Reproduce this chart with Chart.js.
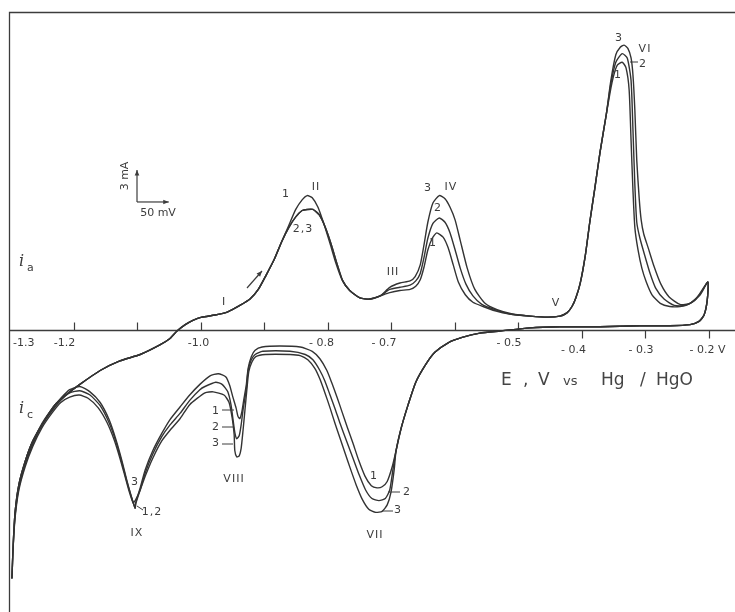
<!DOCTYPE html>
<html>
<head>
<meta charset="utf-8">
<script src="https://cdn.jsdelivr.net/npm/chart.js@4"></script>
<style>
  html, body { margin: 0; padding: 0; background: #fff; }
  #wrap { width: 735px; height: 612px; }
</style>
</head>
<body>
<div id="wrap"><canvas id="cv" width="735" height="612"></canvas></div>
<script>
'use strict';

// ── data: E (V vs Hg/HgO), i (mA) ───────────────────────────────────────────
// anodic sweep, common part from the cathodic vertex
const ANODIC_START = [[-1.297,-23.3],[-1.295,-20.2],[-1.292,-17.1],[-1.286,-14.5],[-1.276,-12.3],[-1.264,-10.4],[-1.248,-8.7],[-1.229,-7.0],[-1.210,-6.0],[-1.190,-5.1],[-1.158,-3.8],[-1.127,-2.9],[-1.095,-2.3],[-1.064,-1.4],[-1.048,-0.8],[-1.037,-0.1],[-1.024,0.5],[-1.012,0.9],[-0.998,1.2],[-0.977,1.4],[-0.957,1.7],[-0.938,2.3],[-0.922,2.9],[-0.909,3.8],[-0.897,5.1],[-0.884,6.6],[-0.872,8.3]];
// peak II
const PEAK2_C1  = [[-0.861,9.8],[-0.850,11.3],[-0.840,12.2],[-0.832,12.6],[-0.824,12.4],[-0.815,11.5],[-0.806,10.0],[-0.796,8.1],[-0.787,6.3],[-0.777,4.7]];
const PEAK2_C23 = [[-0.861,9.6],[-0.850,10.6],[-0.840,11.2],[-0.832,11.3],[-0.823,11.3],[-0.813,10.8],[-0.804,9.7],[-0.794,8.0],[-0.785,6.2],[-0.776,4.6]];
const VALLEY_2_3 = [[-0.765,3.7],[-0.749,3.0],[-0.733,2.9],[-0.717,3.2]];
// peaks III, IV down to V
const PEAK4_C1 = [[-0.702,3.5],[-0.686,3.7],[-0.670,3.8],[-0.661,4.1],[-0.654,4.7],[-0.648,5.9],[-0.642,7.5],[-0.635,8.6],[-0.628,9.1],[-0.618,8.7],[-0.610,7.7],[-0.602,6.1],[-0.594,4.5],[-0.583,3.3],[-0.571,2.6],[-0.555,2.2],[-0.536,1.8],[-0.513,1.5],[-0.481,1.3]];
const PEAK4_C2 = [[-0.702,3.8],[-0.686,4.0],[-0.670,4.2],[-0.661,4.6],[-0.654,5.3],[-0.648,6.8],[-0.642,8.6],[-0.634,10.0],[-0.624,10.5],[-0.615,10.1],[-0.607,9.1],[-0.599,7.5],[-0.591,5.8],[-0.582,4.3],[-0.571,3.2],[-0.557,2.4],[-0.536,1.9],[-0.513,1.5],[-0.481,1.3]];
const PEAK4_C3 = [[-0.702,4.0],[-0.686,4.4],[-0.670,4.6],[-0.662,5.0],[-0.654,6.1],[-0.648,8.0],[-0.642,10.1],[-0.634,11.9],[-0.624,12.6],[-0.615,12.3],[-0.607,11.5],[-0.599,10.3],[-0.591,8.4],[-0.580,5.8],[-0.568,3.8],[-0.552,2.5],[-0.533,1.9],[-0.509,1.5],[-0.481,1.3]];
const RISE_6 = [[-0.453,1.2],[-0.434,1.3],[-0.423,1.6],[-0.415,2.2],[-0.409,3.0],[-0.402,4.4],[-0.394,7.0],[-0.387,10.1],[-0.379,13.3],[-0.371,16.6],[-0.361,20.2]];
// peak VI up to the anodic vertex
const PEAK6_C1 = [[-0.352,23.2],[-0.344,24.8],[-0.336,25.1],[-0.330,24.6],[-0.325,22.5],[-0.322,17.8],[-0.319,13.1],[-0.316,9.6],[-0.311,7.5],[-0.305,5.8],[-0.298,4.5],[-0.289,3.3],[-0.276,2.5],[-0.261,2.2],[-0.245,2.2],[-0.229,2.5],[-0.213,3.4],[-0.201,4.5]];
const PEAK6_C2 = [[-0.354,23.0],[-0.346,25.1],[-0.336,25.9],[-0.328,25.5],[-0.322,23.4],[-0.319,18.8],[-0.316,13.6],[-0.313,10.1],[-0.308,8.6],[-0.300,6.9],[-0.292,5.3],[-0.283,3.9],[-0.270,2.9],[-0.254,2.3],[-0.237,2.3],[-0.221,2.8],[-0.201,4.5]];
const PEAK6_C3 = [[-0.354,23.3],[-0.346,25.8],[-0.339,26.5],[-0.333,26.7],[-0.327,26.4],[-0.322,25.5],[-0.319,23.9],[-0.316,20.6],[-0.313,15.9],[-0.309,12.2],[-0.306,10.3],[-0.302,9.0],[-0.295,7.7],[-0.286,6.0],[-0.275,4.3],[-0.262,3.1],[-0.245,2.4],[-0.229,2.5],[-0.213,3.3],[-0.201,4.5]];
// cathodic sweep, common part
const CATHODIC_START = [[-0.202,2.8],[-0.207,1.4],[-0.215,0.8],[-0.229,0.5],[-0.261,0.4],[-0.308,0.4],[-0.371,0.3],[-0.434,0.3],[-0.481,0.2],[-0.528,-0.1],[-0.560,-0.3],[-0.588,-0.7],[-0.610,-1.2],[-0.631,-2.1],[-0.646,-3.3],[-0.661,-4.9],[-0.673,-7.0],[-0.684,-9.2],[-0.692,-11.3]];
// peaks VII, VIII, IX back to the cathodic vertex
const CATHODIC_C1 = [[-0.698,-12.8],[-0.706,-14.2],[-0.714,-14.7],[-0.722,-14.8],[-0.731,-14.6],[-0.741,-13.7],[-0.751,-12.2],[-0.760,-10.6],[-0.769,-9.1],[-0.777,-7.7],[-0.785,-6.3],[-0.793,-5.0],[-0.801,-3.8],[-0.812,-2.7],[-0.824,-2.0],[-0.843,-1.6],[-0.875,-1.5],[-0.903,-1.6],[-0.914,-1.9],[-0.920,-2.5],[-0.925,-3.6],[-0.928,-5.2],[-0.932,-6.6],[-0.935,-7.7],[-0.938,-8.3],[-0.941,-8.1],[-0.944,-7.3],[-0.949,-6.3],[-0.954,-5.2],[-0.960,-4.4],[-0.972,-4.1],[-0.985,-4.3],[-1.001,-5.1],[-1.017,-6.1],[-1.032,-7.2],[-1.048,-8.4],[-1.061,-9.7],[-1.075,-11.3],[-1.087,-13.1],[-1.095,-14.8],[-1.102,-16.2],[-1.103,-16.7],[-1.109,-15.6],[-1.116,-14.1],[-1.124,-12.2],[-1.133,-10.3],[-1.144,-8.4],[-1.158,-6.8],[-1.174,-5.8],[-1.190,-5.3],[-1.206,-5.6],[-1.220,-6.4],[-1.234,-7.4],[-1.250,-8.8],[-1.264,-10.5],[-1.276,-12.4],[-1.286,-14.6],[-1.292,-17.3],[-1.295,-20.2],[-1.297,-23.3]];
const CATHODIC_C2 = [[-0.697,-13.1],[-0.702,-15.0],[-0.709,-15.8],[-0.719,-16.0],[-0.730,-15.8],[-0.740,-15.0],[-0.750,-13.6],[-0.760,-12.0],[-0.770,-10.4],[-0.780,-8.8],[-0.788,-7.4],[-0.796,-6.1],[-0.804,-4.8],[-0.812,-3.8],[-0.823,-2.8],[-0.835,-2.3],[-0.859,-2.0],[-0.902,-2.0],[-0.914,-2.3],[-0.920,-2.8],[-0.925,-3.8],[-0.928,-5.6],[-0.933,-7.5],[-0.936,-8.9],[-0.939,-9.9],[-0.943,-10.2],[-0.946,-9.6],[-0.949,-8.3],[-0.952,-7.0],[-0.957,-5.8],[-0.966,-5.1],[-0.976,-4.9],[-0.993,-5.3],[-1.001,-5.6],[-1.017,-6.6],[-1.032,-7.8],[-1.048,-8.9],[-1.061,-10.0],[-1.075,-11.6],[-1.087,-13.4],[-1.095,-15.0],[-1.102,-16.3],[-1.103,-16.7],[-1.109,-15.6],[-1.116,-14.2],[-1.124,-12.4],[-1.133,-10.5],[-1.144,-8.7],[-1.158,-7.1],[-1.174,-6.1],[-1.190,-5.7],[-1.206,-5.9],[-1.220,-6.6],[-1.234,-7.6],[-1.250,-9.0],[-1.264,-10.7],[-1.276,-12.6],[-1.286,-14.8],[-1.292,-17.4],[-1.295,-20.3],[-1.297,-23.3]];
const CATHODIC_C3 = [[-0.695,-13.1],[-0.700,-15.2],[-0.706,-16.4],[-0.714,-17.0],[-0.724,-17.1],[-0.735,-16.8],[-0.745,-15.9],[-0.755,-14.5],[-0.764,-13.0],[-0.772,-11.6],[-0.780,-10.2],[-0.788,-8.8],[-0.796,-7.3],[-0.804,-5.9],[-0.812,-4.6],[-0.820,-3.6],[-0.831,-2.8],[-0.843,-2.4],[-0.859,-2.3],[-0.898,-2.3],[-0.913,-2.5],[-0.919,-3.0],[-0.924,-3.9],[-0.927,-5.6],[-0.930,-7.5],[-0.933,-9.4],[-0.936,-11.1],[-0.939,-11.8],[-0.943,-11.9],[-0.946,-11.3],[-0.947,-9.8],[-0.950,-8.3],[-0.955,-6.8],[-0.963,-6.1],[-0.980,-5.8],[-0.993,-5.9],[-1.017,-7.0],[-1.032,-8.3],[-1.048,-9.4],[-1.061,-10.4],[-1.075,-12.0],[-1.087,-13.7],[-1.095,-15.0],[-1.102,-15.9],[-1.106,-16.2],[-1.113,-15.0],[-1.119,-13.7],[-1.127,-12.0],[-1.136,-10.3],[-1.147,-8.7],[-1.161,-7.3],[-1.177,-6.4],[-1.191,-6.1],[-1.206,-6.3],[-1.220,-6.8],[-1.234,-7.8],[-1.250,-9.2],[-1.264,-10.9],[-1.276,-12.8],[-1.286,-15.0],[-1.292,-17.6],[-1.295,-20.3],[-1.297,-23.3]];

const TICK_VALUES = [-1.2, -1.1, -1.0, -0.9, -0.8, -0.7, -0.6, -0.5, -0.4, -0.3, -0.2];
const TICK_LABELS = [
  { v: -1.3, text: '-1.3' }, { v: -1.2, text: '-1.2' }, { v: -1.0, text: '-1.0' },
  { v: -0.8, text: '- 0.8' }, { v: -0.7, text: '- 0.7' }, { v: -0.5, text: '- 0.5' },
  { v: -0.4, text: '- 0.4' }, { v: -0.3, text: '- 0.3' }, { v: -0.2, text: '- 0.2 V' },
];
// scale bar: 50 mV × 3 mA, anchored at (-1.1 V, 12 mA)
const BAR_E = -1.1, BAR_I = 12, BAR_DE = 0.05, BAR_DI = 3;

const X_MIN = -1.3, X_MAX = -0.1583, Y_MIN = -26.44, Y_MAX = 29.81;

const cycles = [
  [...ANODIC_START, ...PEAK2_C1,  ...VALLEY_2_3, ...PEAK4_C1, ...RISE_6, ...PEAK6_C1, ...CATHODIC_START, ...CATHODIC_C1],
  [...ANODIC_START, ...PEAK2_C23, ...VALLEY_2_3, ...PEAK4_C2, ...RISE_6, ...PEAK6_C2, ...CATHODIC_START, ...CATHODIC_C2],
  [...ANODIC_START, ...PEAK2_C23, ...VALLEY_2_3, ...PEAK4_C3, ...RISE_6, ...PEAK6_C3, ...CATHODIC_START, ...CATHODIC_C3],
];

// ── annotation text (pixel positions, centre) ───────────────────────────────
const FONT = "'DejaVu Sans', sans-serif";
const NOTES = [
  ['I', 224, 302], ['1', 286, 194], ['II', 316, 187], ['2,3', 303, 229],
  ['III', 393, 272], ['3', 428, 188], ['IV', 451, 187], ['2', 438, 208], ['1', 433, 243],
  ['V', 556, 303], ['3', 619, 38], ['VI', 645, 49], ['2', 643, 64], ['1', 618, 75],
  ['3', 135, 482], ['1,2', 152, 512], ['IX', 137, 533],
  ['1', 216, 411], ['2', 216, 427], ['3', 216, 443], ['VIII', 234, 479],
  ['1', 374, 476], ['2', 407, 492], ['3', 398, 510], ['VII', 375, 535],
];
const LEADERS = [
  [630, 62, 638, 62], [137, 506, 143, 510],
  [222, 410, 234, 410], [222, 427, 233, 427], [222, 444, 233, 444],
  [388, 492, 400, 492], [382, 511, 393, 511],
];

function arrow(ctx, x0, y0, x1, y1, head) {
  ctx.beginPath(); ctx.moveTo(x0, y0); ctx.lineTo(x1, y1); ctx.stroke();
  const a = Math.atan2(y1 - y0, x1 - x0);
  ctx.beginPath();
  ctx.moveTo(x1, y1);
  ctx.lineTo(x1 - head * Math.cos(a - 0.4), y1 - head * Math.sin(a - 0.4));
  ctx.lineTo(x1 - head * Math.cos(a + 0.4), y1 - head * Math.sin(a + 0.4));
  ctx.closePath(); ctx.fill();
}

const decor = {
  id: 'decor',
  beforeDatasetsDraw(chart) {
    const { ctx, chartArea: a, scales: { x, y } } = chart;
    ctx.save();
    ctx.strokeStyle = '#3c3c3c'; ctx.fillStyle = '#3c3c3c';
    // frame
    ctx.lineWidth = 1.3;
    ctx.beginPath();
    ctx.moveTo(a.left - 0.5, a.bottom); ctx.lineTo(a.left - 0.5, a.top + 0.5); ctx.lineTo(a.right, a.top + 0.5);
    ctx.stroke();
    // zero axis + ticks
    const y0 = Math.round(y.getPixelForValue(0)) + 0.5;
    ctx.beginPath(); ctx.moveTo(a.left, y0); ctx.lineTo(a.right, y0); ctx.stroke();
    ctx.lineWidth = 1.2;
    TICK_VALUES.forEach(v => {
      const px = Math.round(x.getPixelForValue(v)) + 0.5;
      const dir = v > -0.45 ? 1 : -1;
      ctx.beginPath(); ctx.moveTo(px, y0); ctx.lineTo(px, y0 + dir * 8); ctx.stroke();
    });
    ctx.font = `11px ${FONT}`; ctx.textBaseline = 'middle';
    const dx = { '-1.3': 0, '-1.2': -9, '-1': -2, '-0.8': -6, '-0.7': -7, '-0.5': -9, '-0.4': -8, '-0.3': -4, '-0.2': -1 };
    TICK_LABELS.forEach(t => {
      const px = x.getPixelForValue(t.v);
      const low = t.v > -0.45;
      if (t.v === -1.3) { ctx.textAlign = 'left'; ctx.fillText(t.text, px + 3, y0 + 13); return; }
      ctx.textAlign = 'center';
      ctx.fillText(t.text, px + dx[String(t.v)], y0 + (low ? 20 : 13));
    });
    ctx.restore();
  },
  afterDatasetsDraw(chart) {
    const { ctx, scales: { x, y } } = chart;
    ctx.save();
    ctx.strokeStyle = '#3c3c3c'; ctx.fillStyle = '#3c3c3c';
    ctx.lineWidth = 1.2;
    // scale bar
    const bx = x.getPixelForValue(BAR_E), by = y.getPixelForValue(BAR_I);
    arrow(ctx, bx, by, bx, y.getPixelForValue(BAR_I + BAR_DI), 6);
    arrow(ctx, bx, by, x.getPixelForValue(BAR_E + BAR_DE), by, 6);
    ctx.font = `11px ${FONT}`; ctx.textAlign = 'center'; ctx.textBaseline = 'middle';
    ctx.fillText('50 mV', 158, 213);
    ctx.save(); ctx.translate(125, 176); ctx.rotate(-Math.PI / 2); ctx.fillText('3 mA', 0, 0); ctx.restore();
    // sweep direction arrow
    arrow(ctx, 247, 288, 262, 271, 6);
    // peak labels
    ctx.font = `11px ${FONT}`;
    if ('letterSpacing' in ctx) ctx.letterSpacing = '1px';
    NOTES.forEach(([t, px, py]) => ctx.fillText(t, px, py));
    if ('letterSpacing' in ctx) ctx.letterSpacing = '0px';
    ctx.lineWidth = 1;
    LEADERS.forEach(([x0, y0, x1, y1]) => { ctx.beginPath(); ctx.moveTo(x0, y0); ctx.lineTo(x1, y1); ctx.stroke(); });
    // current labels
    ctx.textAlign = 'left'; ctx.textBaseline = 'alphabetic';
    ctx.font = `italic 16px 'DejaVu Serif', serif`;
    ctx.fillText('i', 19, 266); ctx.fillText('i', 19, 413);
    ctx.font = `11px ${FONT}`;
    ctx.fillText('a', 27, 271); ctx.fillText('c', 27, 418);
    // axis title
    ctx.fillStyle = '#444';
    ctx.font = `17px ${FONT}`;
    ctx.fillText('E', 501, 385); ctx.fillText(',', 523, 385); ctx.fillText('V', 538, 385);
    ctx.fillText('Hg', 601, 385); ctx.fillText('/', 640, 385); ctx.fillText('HgO', 656, 385);
    ctx.font = `13px ${FONT}`;
    ctx.fillText('vs', 563, 385);
    ctx.restore();
  },
};

new Chart(document.getElementById('cv').getContext('2d'), {
  type: 'scatter',
  data: {
    datasets: cycles.map((pts, k) => ({
      label: `cycle ${k + 1}`,
      data: pts.map(([e, i]) => ({ x: e, y: i })),
      showLine: true,
      borderColor: '#333',
      borderWidth: 1.4,
      pointRadius: 0,
      tension: 0.2,
      fill: false,
    })),
  },
  options: {
    responsive: false, animation: false,
    layout: { padding: { left: 10, top: 12, right: 0, bottom: 0 } },
    scales: {
      x: { type: 'linear', min: X_MIN, max: X_MAX, display: false },
      y: { type: 'linear', min: Y_MIN, max: Y_MAX, display: false },
    },
    plugins: { legend: { display: false }, tooltip: { enabled: false } },
  },
  plugins: [decor],
});
</script>
</body>
</html>
